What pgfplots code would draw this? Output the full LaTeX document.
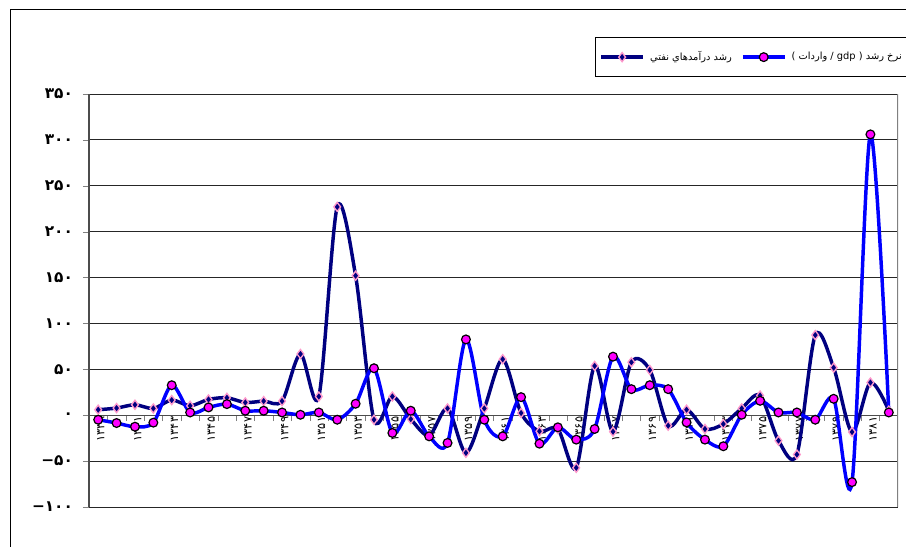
\documentclass[border=0pt]{standalone}
\usepackage{pgfplots}
\usepackage{pgfplotstable}
\pgfplotsset{compat=1.18}
\usepackage{fontspec}
\setmainfont{Liberation Sans}
\newfontfamily\arabicfont[Script=Arabic]{DejaVu Sans}
\TeXXeTstate=1
\definecolor{navyc}{RGB}{0,0,128}
\definecolor{bluec}{RGB}{0,0,255}
\definecolor{pinkc}{RGB}{255,153,204}
\definecolor{magc}{RGB}{255,0,255}
\newcommand{\negl}[1]{\hbox{−}\hbox{#1}}

\pgfplotstableread{
i oil imp
0 6 -4.9
1 7.8 -8.5
2 11.4 -12.5
3 7.4 -8.1
4 16.5 32.7
5 10.3 3
6 17.2 8.5
7 19 12.1
8 13.9 4.9
9 15.4 4.9
10 15.4 3
11 66.7 0.5
12 20.4 3
13 227 -4.9
14 152 12.5
15 -4.9 51.2
16 20.4 -19.3
17 -4.2 4.9
18 -22.2 -23
19 7.4 -30.2
20 -41 82.6
21 7.4 -4.9
22 61 -23
23 2.4 19.7
24 -17.5 -31
25 -15 -13.2
26 -57.3 -26.6
27 53.7 -15
28 -17.9 63.8
29 57.7 28.4
30 49.3 32.7
31 -11.4 28.4
32 6 -7.8
33 -15 -26.6
34 -9.6 -33.8
35 7.4 0.5
36 21.5 15.7
37 -27.7 3
38 -42.8 3
39 87.3 -4.9
40 51.8 17.9
41 -18.3 -72.9
42 35.6 306
43 4.9 3
}\datatable

\begin{document}
\begin{tikzpicture}
\path[use as bounding box] (0,0) rectangle (679.5pt,409.5pt);
\draw[black, line width=0.75pt] (7.5pt,-5pt) -- (7.5pt,402pt) -- (690pt,402pt);
\begin{axis}[
  at={(66.75pt,29.25pt)}, anchor=south west,
  scale only axis, width=606.75pt, height=309.75pt,
  xmin=-0.5, xmax=43.5, ymin=-100, ymax=350,
  axis x line=middle, axis y line=left,
  axis line style={-, black!70, line width=0.8pt},
  xtick={0.5,1.5,...,42.5}, xticklabels={},
  xtick align=outside, major tick length=4.5pt,
  extra x ticks={0,2,...,42},
  extra x tick labels={۱۳۳۹,۱۳۴۱,۱۳۴۳,۱۳۴۵,۱۳۴۷,۱۳۴۹,۱۳۵۱,۱۳۵۳,۱۳۵۵,۱۳۵۷,۱۳۵۹,۱۳۶۱,۱۳۶۳,۱۳۶۵,۱۳۶۷,۱۳۶۹,۱۳۷۱,۱۳۷۳,۱۳۷۵,۱۳۷۷,۱۳۷۹,۱۳۸۱},
  extra x tick style={major tick length=0pt},
  xticklabel style={rotate=90, anchor=east, font=\arabicfont\fontsize{8.5}{9}\selectfont, inner sep=1pt, yshift=-2pt},
  ytick={-100,-50,...,350},
  yticklabels={\negl{۱۰۰},\negl{۵۰},۰,۵۰,۱۰۰,۱۵۰,۲۰۰,۲۵۰,۳۰۰,۳۵۰},
  ytick align=outside,
  yticklabel style={font=\arabicfont\bfseries\fontsize{11.5}{12}\selectfont, xshift=-4pt},
  ymajorgrids, grid style={black!85, line width=0.6pt},
  clip=true,
  legend columns=2,
  legend style={at={(0.6255,1.138)}, anchor=north west, draw=black, line width=0.75pt, fill=white,
    font=\arabicfont\fontsize{7.4}{9}\selectfont, inner xsep=3pt, inner ysep=8.5pt,
    /tikz/every odd column/.append style={column sep=2pt},
    /tikz/every even column/.append style={column sep=5pt}},
  legend image code/.code={\draw[mark repeat=2,mark phase=2,#1] plot coordinates {(0cm,0cm) (0.55cm,0cm) (1.1cm,0cm)};},
]
\addplot[navyc, line width=2.6pt, smooth, tension=0.5, mark=diamond*, mark size=3.4pt,
  mark options={fill=navyc, draw=pinkc, line width=1pt}] table[x=i, y=oil] {\datatable};
\addlegendentry{\beginR رشد درآمدهاي نفتي\endR}
\addplot[bluec, line width=2.6pt, smooth, tension=0.5, mark=*, mark size=3.3pt,
  mark options={fill=magc, draw=black, line width=0.9pt}] table[x=i, y=imp] {\datatable};
\addlegendentry{\beginR نرخ رشد ( \beginL gdp\endL{} / واردات )\endR}
\draw[black!50, line width=0.8pt] (rel axis cs:1,0) -- (rel axis cs:1,1);
\end{axis}
\end{tikzpicture}
\end{document}
